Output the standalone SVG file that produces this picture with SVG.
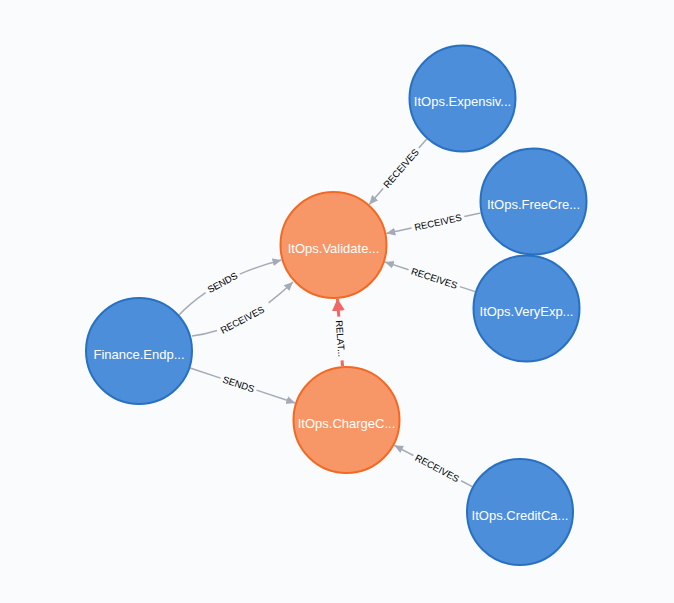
<svg xmlns="http://www.w3.org/2000/svg" width="674" height="603" viewBox="0 0 674 603">
<style>
.bg{fill:#f9fbfd}
.blue circle{fill:#4c8eda;stroke:#2870c2;stroke-width:2}
.orange circle{fill:#f79767;stroke:#f36924;stroke-width:2}
.node text{fill:#ffffff;font-family:"Liberation Sans",Arial,sans-serif;font-size:13px;text-anchor:middle}
.rel{fill:none;stroke:#a5abb6;stroke-width:1.5}
.rel.red{stroke:#f16667;stroke-width:3}
.lbl{fill:#000000;font-family:"Liberation Sans",Arial,sans-serif;font-size:9.5px;text-anchor:middle}
</style>
<defs>
<marker id="arr" viewBox="0 -5 10 10" refX="9" refY="0" markerWidth="10" markerHeight="10" markerUnits="userSpaceOnUse" orient="auto">
<path d="M0,-4 L9,0 L0,4 Z" fill="#a5abb6"/>
</marker>
<marker id="arrRed" viewBox="0 -7 14 14" refX="12" refY="0" markerWidth="14" markerHeight="14" markerUnits="userSpaceOnUse" orient="auto">
<path d="M0,-6.5 L12,0 L0,6.5 Z" fill="#f16667"/>
</marker>
</defs>
<rect class="bg" x="0" y="0" width="674" height="603"/>
<g id="connectors">
<g id="e-finance-validate-sends">
<path class="rel" d="M178,316 Q190.21,303.13 205.63,292.65"/>
<path class="rel" d="M239.69,274.11 Q258.89,265.78 281.5,260" marker-end="url(#arr)"/>
<text class="lbl" dy="0.36em" transform="translate(222.4,282.5) rotate(-28.4)">SENDS</text>
</g>
<g id="e-finance-validate-receives">
<path class="rel" d="M192,336 Q204.5,334.63 217.06,330.57"/>
<path class="rel" d="M268.58,302.8 Q280.76,293.64 293,282" marker-end="url(#arr)"/>
<text class="lbl" dy="0.36em" transform="translate(242.25,319.75) rotate(-28.1)">RECEIVES</text>
</g>
<g id="e-finance-charge-sends">
<path class="rel" d="M190.2,368 L220.5,378.1"/>
<path class="rel" d="M256.5,390.1 L295.3,403" marker-end="url(#arr)"/>
<text class="lbl" dy="0.36em" transform="translate(238.5,384.1) rotate(18.4)">SENDS</text>
</g>
<g id="e-expensive-validate">
<path class="rel" d="M426.8,139 L418.8,148.1"/>
<path class="rel" d="M383.1,188.6 L369.2,204.5" marker-end="url(#arr)"/>
<text class="lbl" dy="0.36em" transform="translate(400.95,168.35) rotate(-48.6)">RECEIVES</text>
</g>
<g id="e-freecre-validate">
<path class="rel" d="M480.7,213 L464.3,216.6"/>
<path class="rel" d="M411.5,228 L386.3,233.5" marker-end="url(#arr)"/>
<text class="lbl" dy="0.36em" transform="translate(437.9,222.3) rotate(-12.3)">RECEIVES</text>
</g>
<g id="e-veryexp-validate">
<path class="rel" d="M475.2,291.6 L459.9,286.6"/>
<path class="rel" d="M408.6,269.7 L384.8,261.9" marker-end="url(#arr)"/>
<text class="lbl" dy="0.36em" transform="translate(434.3,278.15) rotate(18.2)">RECEIVES</text>
</g>
<g id="e-creditca-charge">
<path class="rel" d="M472.3,486.7 L461.1,480.75"/>
<path class="rel" d="M413.4,455.5 L394.2,445.3" marker-end="url(#arr)"/>
<text class="lbl" dy="0.36em" transform="translate(437.2,468.1) rotate(27.9)">RECEIVES</text>
</g>
<g id="e-charge-validate-relat">
<path class="rel red" d="M342.5,366.15 L342.1,360.4"/>
<path class="rel red" d="M338.8,316.6 L337.5,298.85" marker-end="url(#arrRed)"/>
<text class="lbl" dy="0.36em" transform="translate(340.45,338.5) rotate(85.75)">RELAT...</text>
</g>
</g>
<g id="n-validate" class="node orange">
<circle cx="333.5" cy="245" r="53"/>
<text x="333.5" y="252.5">ItOps.Validate...</text>
</g>
<g id="n-charge" class="node orange">
<circle cx="346.5" cy="420" r="53"/>
<text x="346.5" y="427.5">ItOps.ChargeC...</text>
</g>
<g id="n-finance" class="node blue">
<circle cx="139" cy="351" r="53"/>
<text x="139" y="358.5">Finance.Endp...</text>
</g>
<g id="n-expensive" class="node blue">
<circle cx="462.5" cy="98.5" r="53"/>
<text x="462.5" y="106">ItOps.Expensiv...</text>
</g>
<g id="n-freecre" class="node blue">
<circle cx="533.5" cy="201.5" r="53"/>
<text x="533.5" y="209">ItOps.FreeCre...</text>
</g>
<g id="n-veryexp" class="node blue">
<circle cx="526.5" cy="308.5" r="53"/>
<text x="526.5" y="316">ItOps.VeryExp...</text>
</g>
<g id="n-creditca" class="node blue">
<circle cx="520" cy="512" r="53"/>
<text x="520" y="519.5">ItOps.CreditCa...</text>
</g>
</svg>
